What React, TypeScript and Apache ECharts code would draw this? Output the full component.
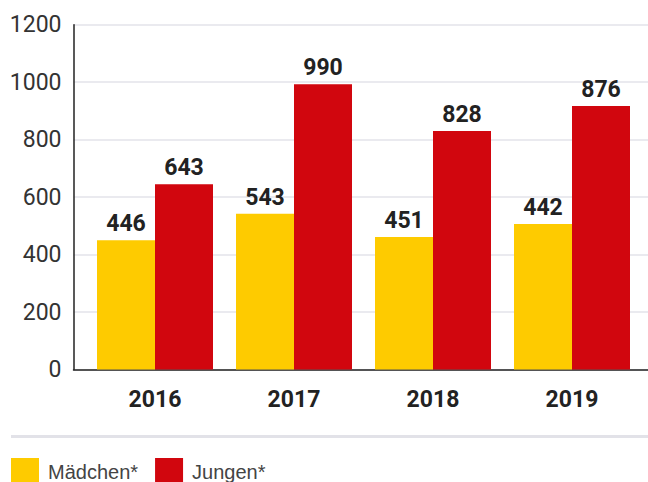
import React, { useEffect, useRef } from "react";
import * as echarts from "echarts";

const categories = ["2016", "2017", "2018", "2019"];
const seriesNames = ["Mädchen*", "Jungen*"];
// bar heights as drawn in the picture
const maedchenHeights = [450, 542, 461, 506];
const jungenHeights = [645, 993, 830, 917];
// value labels as printed above the bars
const maedchenLabels = ["446", "543", "451", "442"];
const jungenLabels = ["643", "990", "828", "876"];
const yTicks = [0, 200, 400, 600, 800, 1000, 1200];

const FONT = "Roboto, 'Liberation Sans', Arial, sans-serif";

export default function App() {
  const ref = useRef<HTMLDivElement>(null);
  useEffect(() => {
    if (!ref.current) return;
    const chart = echarts.init(ref.current, undefined, { renderer: "svg" });
    const top = 24.7;
    const bottom = 482 - 369.5;
    const labelStyle = {
      show: true,
      position: "top" as const,
      distance: 5,
      fontFamily: FONT,
      fontWeight: "bold" as const,
      fontSize: 23,
      color: "#222",
    };
    chart.setOption({
      animation: false,
      backgroundColor: "#fff",
      grid: [
        { left: 73.5, right: 0, top, bottom },
        { left: 85.5, right: 6.5, top, bottom },
      ],
      xAxis: [
        {
          type: "category",
          gridIndex: 0,
          data: categories,
          axisLine: { show: true, lineStyle: { color: "#222", width: 1.5 } },
          axisTick: { show: false },
          axisLabel: { show: false },
        },
        {
          type: "category",
          gridIndex: 1,
          data: categories,
          axisLine: { show: false },
          axisTick: { show: false },
          axisLabel: {
            margin: 18,
            fontFamily: FONT,
            fontWeight: "bold",
            fontSize: 23,
            color: "#222",
          },
        },
      ],
      yAxis: [
        {
          type: "value",
          gridIndex: 0,
          min: yTicks[0],
          max: yTicks[yTicks.length - 1],
          interval: 200,
          axisLine: { show: true, lineStyle: { color: "#222", width: 1.5 } },
          axisTick: { show: false },
          axisLabel: {
            margin: 12,
            fontFamily: FONT,
            fontSize: 23,
            color: "#333",
            formatter: (v: number) => String(v),
          },
          splitLine: { show: true, lineStyle: { color: "#e3e3ea", width: 1.5 } },
        },
        {
          type: "value",
          gridIndex: 1,
          min: yTicks[0],
          max: yTicks[yTicks.length - 1],
          interval: 200,
          show: false,
          splitLine: { show: false },
        },
      ],
      legend: {
        left: 11,
        top: 458,
        padding: 0,
        itemWidth: 28,
        itemHeight: 28,
        itemGap: 17,
        icon: "rect",
        textStyle: {
          fontFamily: "'Liberation Sans', Arial, sans-serif",
          fontSize: 20,
          color: "#444",
          padding: [2, 0, 0, 4],
        },
        data: seriesNames,
      },
      graphic: [
        {
          type: "line",
          shape: { x1: 11, y1: 436.5, x2: 648, y2: 436.5 },
          style: { stroke: "#e2e2e8", lineWidth: 3 },
        },
      ],
      series: [
        {
          name: seriesNames[0],
          type: "bar",
          xAxisIndex: 1,
          yAxisIndex: 1,
          data: maedchenHeights,
          barWidth: 58,
          barGap: "0%",
          itemStyle: { color: "#FECB00" },
          label: {
            ...labelStyle,
            formatter: (p: any) => maedchenLabels[p.dataIndex],
          },
        },
        {
          name: seriesNames[1],
          type: "bar",
          xAxisIndex: 1,
          yAxisIndex: 1,
          data: jungenHeights,
          barWidth: 58,
          barGap: "0%",
          itemStyle: { color: "#D1060E" },
          label: {
            ...labelStyle,
            formatter: (p: any) => jungenLabels[p.dataIndex],
          },
        },
      ],
    });
    return () => chart.dispose();
  }, []);
  return (
    <div
      ref={ref}
      style={{ position: "fixed", left: 0, top: 0, width: 648, height: 482 }}
    />
  );
}
